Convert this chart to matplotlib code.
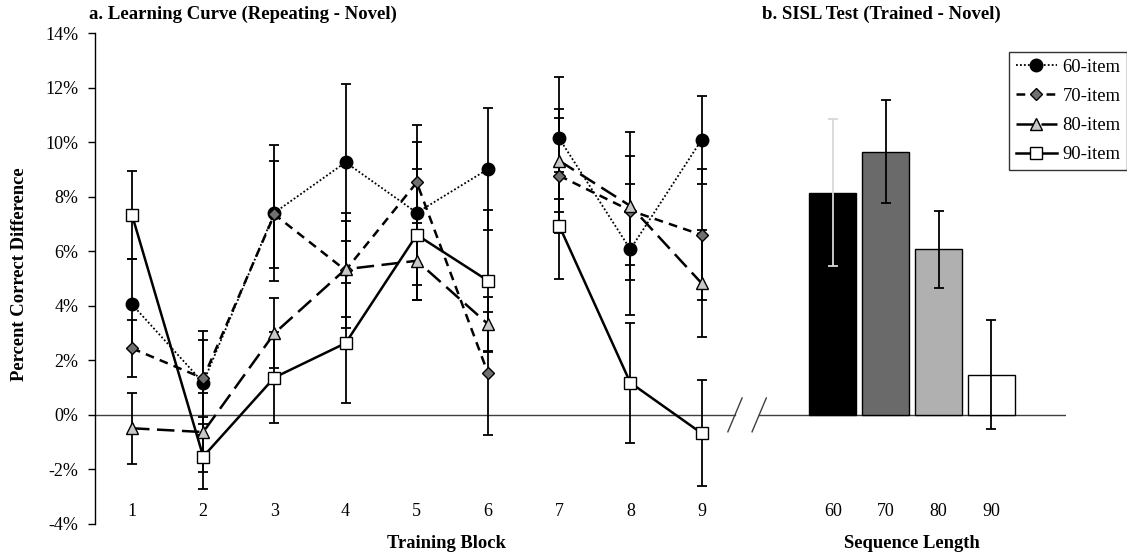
import matplotlib
matplotlib.use("Agg")
import matplotlib.pyplot as plt
import numpy as np
from matplotlib.lines import Line2D

plt.rcParams['font.family'] = ['Liberation Serif', 'DejaVu Serif']

# ---- data (percent) ----
blocks = [1, 2, 3, 4, 5, 6, 7, 8, 9]
m60 = [4.05, 1.18, 7.41, 9.26, 7.41, 9.01, 10.14, 6.07, 10.08]
e60 = [1.65, 1.90, 2.50, 2.87, 3.20, 2.23, 2.23, 2.40, 1.60]
m70 = [2.44, 1.34, 7.35, 5.30, 8.52, 1.53, 8.77, 7.49, 6.60]
e70 = [1.05, 1.40, 1.95, 2.10, 1.50, 2.26, 2.10, 2.00, 2.40]
m80 = [-0.49, -0.63, 2.99, 5.34, 5.65, 3.33, 9.32, 7.66, 4.83]
e80 = [1.30, 1.45, 1.28, 1.75, 0.90, 1.00, 1.90, 2.70, 1.96]
m90 = [7.33, -1.53, 1.37, 2.63, 6.60, 4.92, 6.94, 1.18, -0.67]
e90 = [1.60, 1.20, 1.68, 2.20, 2.40, 2.60, 1.97, 2.20, 1.95]

seq_len = ['60', '70', '80', '90']
bar_vals = [8.15, 9.65, 6.07, 1.47]
bar_err = [2.70, 1.90, 1.40, 2.00]

series_names = ['60-item', '70-item', '80-item', '90-item']
yticks = [-4, -2, 0, 2, 4, 6, 8, 10, 12, 14]

# ---- styles ----
styles = [
    dict(ls=(0, (1, 1.2)), lw=1.3, marker='o', mfc='black', ms=9),
    dict(ls=(0, (3.5, 2.5)), lw=1.8, marker='D', mfc='#707070', ms=6.5),
    dict(ls=(0, (7, 3)), lw=1.8, marker='^', mfc='#c8c8c8', ms=8.5),
    dict(ls='-', lw=1.8, marker='s', mfc='white', ms=9),
]
bar_colors = ['black', '#6a6a6a', '#b0b0b0', 'white']
bar_ecolors = ['#d8d8d8', 'black', 'black', 'black']

W, H = 1127, 556
fig = plt.figure(figsize=(W / 100, H / 100), dpi=100)
ax_left, ax_right = 95 / W, 1066 / W
ax_bottom, ax_top = 1 - 524 / H, 1 - 33 / H
ax = fig.add_axes([ax_left, ax_bottom, ax_right - ax_left, ax_top - ax_bottom])

xmin, xmax = 0.48, 14.12
ax.set_xlim(xmin, xmax)
ax.set_ylim(-4, 14)

means = [m60, m70, m80, m90]
errs = [e60, e70, e80, e90]
segments = [(0, 6), (6, 9)]
x = np.array(blocks, dtype=float)

for m, e, st in zip(means, errs, styles):
    ax.errorbar(x, m, yerr=e, fmt='none', ecolor='black', elinewidth=1.3,
                capsize=3.5, capthick=1.3, zorder=2)
for m, st in zip(means, styles):
    m = np.array(m)
    for a, b in segments:
        ax.plot(x[a:b], m[a:b], color='black', ls=st['ls'], lw=st['lw'],
                marker=st['marker'], mfc=st['mfc'], mec='black', mew=1.0,
                ms=st['ms'], zorder=3)

# bars
bar_x = 10.845 + 0.742 * np.arange(len(seq_len))
ax.bar(bar_x, bar_vals, width=0.66, color=bar_colors, edgecolor='black',
       linewidth=1.0, zorder=2)
for bx, bv, be, ec in zip(bar_x, bar_vals, bar_err, bar_ecolors):
    ax.errorbar([bx], [bv], yerr=[be], fmt='none', ecolor=ec, elinewidth=1.3,
                capsize=3.5, capthick=1.3, zorder=3)

# zero line with axis break
brk1, brk2 = 9.47, 9.81
ax.plot([xmin, brk1], [0, 0], color='#404040', lw=1.0, zorder=1)
ax.plot([brk2, xmax], [0, 0], color='#404040', lw=1.0, zorder=1)
for bxk in (brk1, brk2):
    ax.plot([bxk - 0.1, bxk + 0.1], [-0.62, 0.62], color='#404040', lw=1.0, zorder=1)

# axes styling
for s in ['top', 'right', 'bottom']:
    ax.spines[s].set_visible(False)
ax.spines['left'].set_linewidth(1.0)
ax.set_yticks(yticks)
ax.set_yticklabels([f'{v}%' for v in yticks], fontsize=13)
ax.tick_params(axis='y', direction='out', length=5, width=1.0, pad=7)
ax.set_xticks(list(x) + list(bar_x))
ax.set_xticklabels([str(b) for b in blocks] + seq_len, fontsize=13)
ax.tick_params(axis='x', length=0, pad=-15)

# labels
fig.text(20 / W, 1 - 274 / H, 'Percent Correct Difference', rotation=90,
         ha='center', va='center', fontsize=13.4, fontweight='bold')
fig.text(446 / W, 1 - 543 / H, 'Training Block', ha='center', va='center',
         fontsize=13.3, fontweight='bold')
fig.text(912 / W, 1 - 543 / H, 'Sequence Length', ha='center', va='center',
         fontsize=13.3, fontweight='bold')
fig.text(89 / W, 1 - 14 / H, 'a. Learning Curve (Repeating - Novel)', ha='left',
         va='center', fontsize=13.5, fontweight='bold')
fig.text(762 / W, 1 - 14 / H, 'b. SISL Test (Trained - Novel)', ha='left',
         va='center', fontsize=13.5, fontweight='bold')

# legend
handles = [Line2D([0], [0], color='black', ls=st['ls'], lw=st['lw'],
                  marker=st['marker'], mfc=st['mfc'], mec='black', mew=1.0,
                  ms=st['ms']) for st in styles]
leg = fig.legend(handles, series_names, loc='upper right',
                 bbox_to_anchor=(1127 / W, 1 - 52 / H), frameon=True,
                 fancybox=False, edgecolor='black', fontsize=13.4,
                 handlelength=2.2, handletextpad=0.3, borderpad=0.35,
                 labelspacing=0.66, borderaxespad=0)
leg.get_frame().set_linewidth(1.0)

fig.savefig('out.png', dpi=100)
